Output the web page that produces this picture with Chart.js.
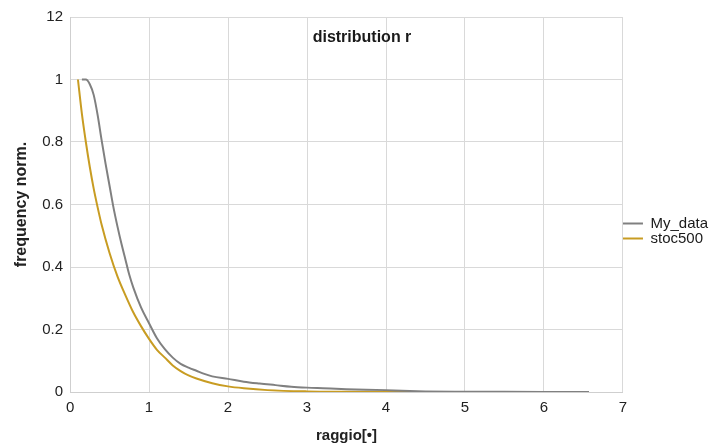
<!DOCTYPE html>
<html>
<head>
<meta charset="utf-8">
<script src="https://cdn.jsdelivr.net/npm/chart.js@4.4.1/dist/chart.umd.min.js"></script>
<style>
  html, body { margin: 0; padding: 0; background: #fff; }
  #wrap { width: 727px; height: 448px; }
</style>
</head>
<body>
<div id="wrap"><canvas id="myChart" width="727" height="448"></canvas></div>
<script>
// values
const myDataX = [0.15, 0.2, 0.25, 0.3, 0.35, 0.4, 0.45, 0.5, 0.55, 0.6, 0.65, 0.7, 0.75, 0.8, 0.9, 1.0, 1.1, 1.2, 1.3, 1.4, 1.5, 1.6, 1.7, 1.8, 2.0, 2.2, 2.4, 2.6, 2.8, 3.0, 3.2, 3.5, 4.0, 4.2, 4.5, 5.0, 5.5, 6.0, 6.57];
const myDataY = [1.0, 1.0, 0.985, 0.95, 0.885, 0.805, 0.73, 0.66, 0.59, 0.53, 0.475, 0.425, 0.375, 0.335, 0.27, 0.22, 0.172, 0.137, 0.11, 0.09, 0.078, 0.068, 0.058, 0.05, 0.042, 0.033, 0.027, 0.022, 0.017, 0.014, 0.012, 0.009, 0.006, 0.004, 0.002, 0.001, 0.0005, 0.0002, 0.0];

const stocX = [0.1, 0.15, 0.2, 0.25, 0.3, 0.35, 0.4, 0.5, 0.6, 0.7, 0.8, 0.9, 1.0, 1.1, 1.2, 1.3, 1.4, 1.5, 1.6, 1.8, 2.0, 2.2, 2.5, 3.0, 3.5, 4.0, 5.0];
const stocY = [1.0, 0.89, 0.8, 0.72, 0.65, 0.59, 0.535, 0.445, 0.37, 0.31, 0.255, 0.21, 0.17, 0.135, 0.11, 0.085, 0.067, 0.053, 0.043, 0.028, 0.018, 0.012, 0.006, 0.002, 0.0008, 0.0003, 0.0];

const yTickValues = [0, 0.2, 0.4, 0.6, 0.8, 1, 1.2];
const yTickLabels = ["0", "0.2", "0.4", "0.6", "0.8", "1", "12"];
const xTickValues = [0, 1, 2, 3, 4, 5, 6, 7];

function toPoints(xs, ys) {
  return xs.map((x, i) => ({ x: x, y: ys[i] }));
}

// title sits inside the plot, centered on the canvas
const innerTitle = {
  id: "innerTitle",
  afterDraw(chart) {
    const c = chart.ctx;
    c.save();
    c.font = "bold 16px 'Liberation Sans', Arial, sans-serif";
    c.fillStyle = "#1a1a1a";
    c.textAlign = "center";
    c.textBaseline = "middle";
    c.fillText("distribution r", 362, 38);
    c.restore();
  },
};

Chart.defaults.font.family = "'Liberation Sans', Arial, sans-serif";
Chart.defaults.color = "#222";

var ctx = document.getElementById("myChart").getContext("2d");
var myChart = new Chart(ctx, {
  type: "line",
  data: {
    datasets: [
      {
        label: "My_data",
        data: toPoints(myDataX, myDataY),
        borderColor: "#808080",
        backgroundColor: "#808080",
        borderWidth: 2,
        pointRadius: 0,
        cubicInterpolationMode: "monotone",
      },
      {
        label: "stoc500",
        data: toPoints(stocX, stocY),
        borderColor: "#c89c22",
        backgroundColor: "#c89c22",
        borderWidth: 2,
        pointRadius: 0,
        cubicInterpolationMode: "monotone",
      },
    ],
  },
  options: {
    responsive: false,
    animation: false,
    layout: { padding: { top: 17, right: 9, bottom: 3, left: 8 } },
    plugins: {
      tooltip: { enabled: false },
      legend: {
        position: "right",
        labels: {
          usePointStyle: true,
          pointStyle: "line",
          pointStyleWidth: 20,
          boxHeight: 2,
          padding: 0,
          font: { size: 15 },
          color: "#1a1a1a",
        },
      },
    },
    scales: {
      x: {
        type: "linear",
        min: 0,
        max: 7,
        afterBuildTicks: (axis) => {
          axis.ticks = xTickValues.map((v) => ({ value: v }));
        },
        ticks: { font: { size: 15 }, padding: 7, maxRotation: 0 },
        grid: { color: "#d9d9d9", drawTicks: false },
        border: { color: "#cfcfcf" },
        title: {
          display: true,
          text: "raggio[•]",
          font: { size: 15, weight: "bold" },
          padding: { top: 3, bottom: 0 },
        },
      },
      y: {
        min: 0,
        max: 1.2,
        afterBuildTicks: (axis) => {
          axis.ticks = yTickValues.map((v) => ({ value: v }));
        },
        ticks: {
          font: { size: 15 },
          padding: 7,
          callback: function (value, index) {
            return yTickLabels[index];
          },
        },
        grid: { color: "#d9d9d9", drawTicks: false },
        border: { color: "#cfcfcf" },
        title: {
          display: true,
          text: "frequency norm.",
          font: { size: 16, weight: "bold" },
          padding: { bottom: 4 },
        },
      },
    },
  },
  plugins: [innerTitle],
});
</script>
</body>
</html>
